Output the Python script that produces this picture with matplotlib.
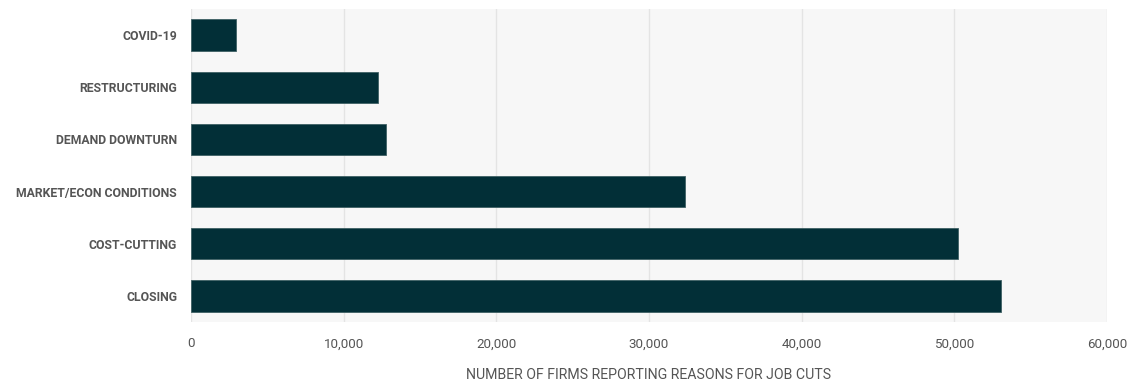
import matplotlib
matplotlib.use("Agg")
import matplotlib.pyplot as plt
from matplotlib.ticker import FuncFormatter

categories = ["COVID-19", "RESTRUCTURING", "DEMAND DOWNTURN",
              "MARKET/ECON CONDITIONS", "COST-CUTTING", "CLOSING"]
values = [2950, 12250, 12780, 32350, 50230, 53050]
xticks = [0, 10000, 20000, 30000, 40000, 50000, 60000]
xlabel = "NUMBER OF FIRMS REPORTING REASONS FOR JOB CUTS"

plt.rcParams['font.family'] = ['Roboto', 'DejaVu Sans']

fig = plt.figure(figsize=(11.46, 3.84), dpi=100)
W, H = 1146, 384
ax = fig.add_axes([191 / W, 1 - 322 / H, (1107 - 191) / W, (322 - 9) / H])
ax.set_facecolor("#f7f7f7")

ypos = list(range(len(categories)))
ax.barh(ypos, values, height=0.6, color="#022f37", edgecolor="#3f6064",
        linewidth=0.6, zorder=3)
ax.set_ylim(len(categories) - 0.5, -0.5)
ax.set_xlim(0, 60000)
ax.set_yticks(ypos)
ax.set_yticklabels(categories, fontsize=8.8, color="#555555", fontweight="bold")
ax.set_xticks(xticks)
ax.xaxis.set_major_formatter(FuncFormatter(lambda v, p: f"{int(v):,}"))
ax.tick_params(axis="x", labelsize=9.6, labelcolor="#555555", length=0, pad=11)
ax.tick_params(axis="y", length=0, pad=10)
ax.grid(axis="x", color="#e4e4e4", linewidth=1, zorder=0)
for s in ax.spines.values():
    s.set_visible(False)
ax.set_xlabel(xlabel, fontsize=10.2, color="#555555", labelpad=13)

fig.savefig("out.png", dpi=100, facecolor="white")
